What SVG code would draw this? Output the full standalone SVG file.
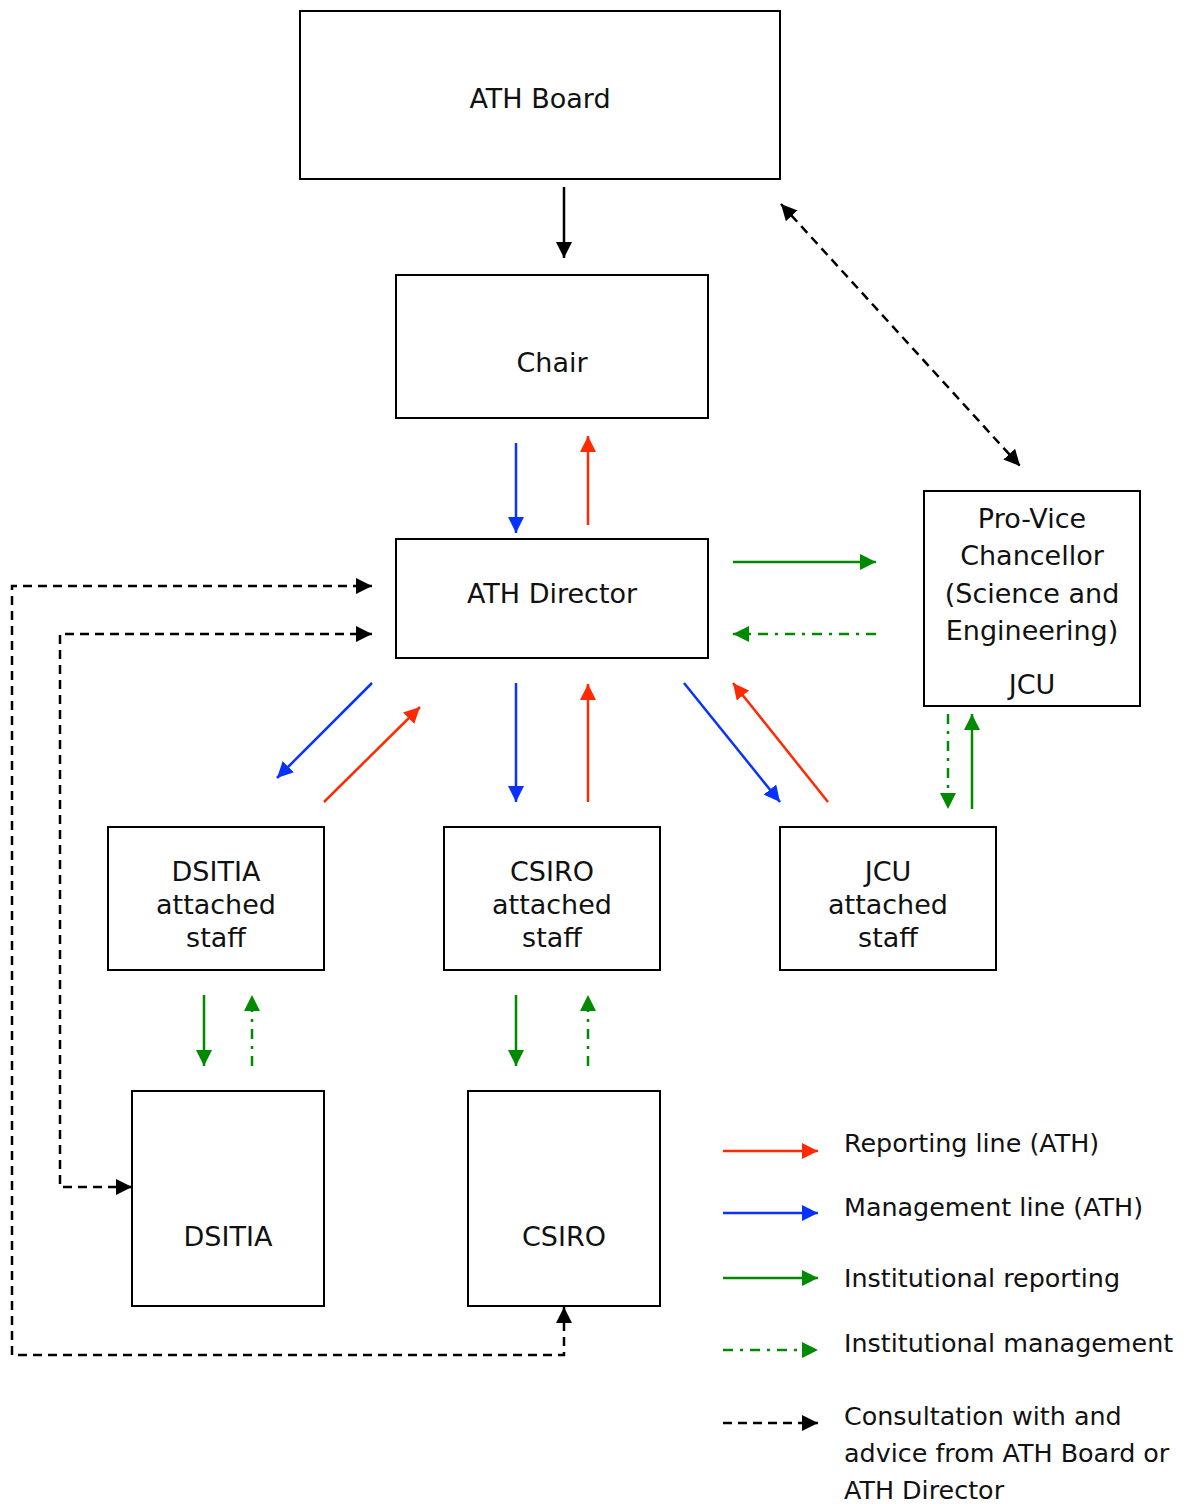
<svg xmlns="http://www.w3.org/2000/svg" width="1194" height="1504" viewBox="0 0 1194 1504">
<style>
.box{fill:#fff;stroke:#000;stroke-width:2}
.t{font-family:"DejaVu Sans","Liberation Sans",sans-serif;font-size:27px;fill:#111;text-anchor:middle}
.lg{font-family:"DejaVu Sans","Liberation Sans",sans-serif;font-size:25.4px;fill:#111}
.c{fill:none;stroke-width:2.5}
.red{stroke:#ff2a00;marker-end:url(#mr)}
.blue{stroke:#0a32ff;marker-end:url(#mb)}
.grn{stroke:#008a00;marker-end:url(#mg)}
.gdd{stroke:#008a00;stroke-dasharray:10 7 3 7;marker-end:url(#mg)}
.blk{stroke:#000;marker-end:url(#mk)}
.bdash{stroke:#000;stroke-dasharray:9 6;marker-start:url(#mk);marker-end:url(#mk)}
.bdash1{stroke:#000;stroke-dasharray:9 6;marker-end:url(#mk)}
</style>
<defs>
<marker id="mr" markerUnits="userSpaceOnUse" markerWidth="16" markerHeight="16" refX="16" refY="8" orient="auto-start-reverse"><path d="M0,0 L16,8 L0,16 z" fill="#ff2a00"/></marker>
<marker id="mb" markerUnits="userSpaceOnUse" markerWidth="16" markerHeight="16" refX="16" refY="8" orient="auto-start-reverse"><path d="M0,0 L16,8 L0,16 z" fill="#0a32ff"/></marker>
<marker id="mg" markerUnits="userSpaceOnUse" markerWidth="16" markerHeight="16" refX="16" refY="8" orient="auto-start-reverse"><path d="M0,0 L16,8 L0,16 z" fill="#008a00"/></marker>
<marker id="mk" markerUnits="userSpaceOnUse" markerWidth="16" markerHeight="16" refX="16" refY="8" orient="auto-start-reverse"><path d="M0,0 L16,8 L0,16 z" fill="#000"/></marker>
</defs>
<rect width="1194" height="1504" fill="#fff"/>

<g id="board"><rect class="box" x="300" y="11" width="480" height="168"/><text class="t" x="540" y="108">ATH Board</text></g>
<g id="chair"><rect class="box" x="396" y="275" width="312" height="143"/><text class="t" x="552" y="372">Chair</text></g>
<g id="director"><rect class="box" x="396" y="539" width="312" height="119"/><text class="t" x="552" y="603">ATH Director</text></g>
<g id="pvc"><rect class="box" x="924" y="491" width="216" height="215"/>
<text class="t" x="1032" y="528">Pro-Vice</text>
<text class="t" x="1032" y="565">Chancellor</text>
<text class="t" x="1032" y="603">(Science and</text>
<text class="t" x="1032" y="640">Engineering)</text>
<text class="t" x="1032" y="694">JCU</text></g>
<g id="dsitia-staff"><rect class="box" x="108" y="827" width="216" height="143"/>
<text class="t" x="216" y="881">DSITIA</text><text class="t" x="216" y="914">attached</text><text class="t" x="216" y="947">staff</text></g>
<g id="csiro-staff"><rect class="box" x="444" y="827" width="216" height="143"/>
<text class="t" x="552" y="881">CSIRO</text><text class="t" x="552" y="914">attached</text><text class="t" x="552" y="947">staff</text></g>
<g id="jcu-staff"><rect class="box" x="780" y="827" width="216" height="143"/>
<text class="t" x="888" y="881">JCU</text><text class="t" x="888" y="914">attached</text><text class="t" x="888" y="947">staff</text></g>
<g id="dsitia"><rect class="box" x="132" y="1091" width="192" height="215"/><text class="t" x="228" y="1246">DSITIA</text></g>
<g id="csiro"><rect class="box" x="468" y="1091" width="192" height="215"/><text class="t" x="564" y="1246">CSIRO</text></g>

<g id="connectors">
<line class="c blk" x1="564" y1="187" x2="564" y2="258"/>
<line class="c bdash" x1="781" y1="204" x2="1020" y2="466"/>
<line class="c blue" x1="516" y1="443" x2="516" y2="533"/>
<line class="c red" x1="588" y1="525" x2="588" y2="436"/>
<line class="c grn" x1="733" y1="562" x2="876" y2="562"/>
<line class="c gdd" x1="876" y1="634" x2="733" y2="634"/>
<line class="c blue" x1="372" y1="683" x2="277" y2="778"/>
<line class="c red" x1="324" y1="802" x2="420" y2="707"/>
<line class="c blue" x1="516" y1="683" x2="516" y2="802"/>
<line class="c red" x1="588" y1="802" x2="588" y2="684"/>
<line class="c blue" x1="684" y1="683" x2="780" y2="802"/>
<line class="c red" x1="828" y1="802" x2="733" y2="683"/>
<line class="c gdd" x1="948" y1="714" x2="948" y2="809"/>
<line class="c grn" x1="972" y1="809" x2="972" y2="714"/>
<line class="c grn" x1="204" y1="995" x2="204" y2="1066"/>
<line class="c gdd" x1="252" y1="1066" x2="252" y2="995"/>
<line class="c grn" x1="516" y1="995" x2="516" y2="1066"/>
<line class="c gdd" x1="588" y1="1066" x2="588" y2="995"/>
<path class="c bdash" d="M564,1307 L564,1355 L12,1355 L12,586 L372,586"/>
<path class="c bdash" d="M132,1187 L60,1187 L60,634 L372,634"/>
</g>

<g id="legend">
<line class="c red" x1="723" y1="1151" x2="818" y2="1151"/>
<line class="c blue" x1="723" y1="1213" x2="818" y2="1213"/>
<line class="c grn" x1="723" y1="1278" x2="818" y2="1278"/>
<line class="c gdd" x1="723" y1="1350" x2="818" y2="1350"/>
<line class="c bdash1" x1="723" y1="1423" x2="818" y2="1423"/>
<text class="lg" x="844" y="1152">Reporting line (ATH)</text>
<text class="lg" x="844" y="1216">Management line (ATH)</text>
<text class="lg" x="844" y="1287">Institutional reporting</text>
<text class="lg" x="844" y="1352">Institutional management</text>
<text class="lg" x="844" y="1425">Consultation with and</text>
<text class="lg" x="844" y="1462">advice from ATH Board or</text>
<text class="lg" x="844" y="1499">ATH Director</text>
</g>
</svg>
